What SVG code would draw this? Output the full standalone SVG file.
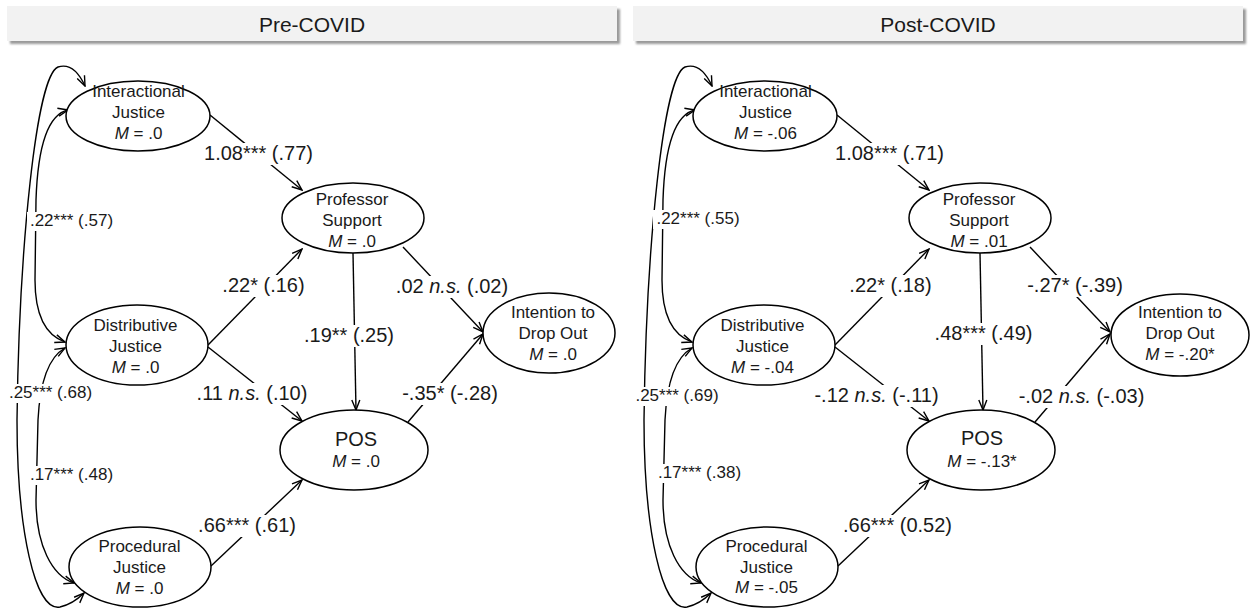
<svg xmlns="http://www.w3.org/2000/svg" width="1251" height="608" viewBox="0 0 1251 608">
<defs>
<style>
text{font-family:"Liberation Sans",Arial,sans-serif;fill:#1a1a1a}
.nt{font-size:17px;text-anchor:middle}
.big{font-size:20px}
.pl{font-size:20px;text-anchor:middle}
.cl{font-size:17px;text-anchor:middle}
.title{font-size:21px;text-anchor:middle}
.i{font-style:italic}
ellipse{fill:#fff;stroke:#000;stroke-width:1.5}
.edge{fill:none;stroke:#000;stroke-width:1.4;marker-end:url(#arr)}
.cov{fill:none;stroke:#000;stroke-width:1.4;marker-start:url(#arr);marker-end:url(#arr)}
.bg{fill:#fff}
.bar{fill:#f2f2f2}
.shadow{fill:#9a9a9a;filter:url(#blur)}
</style>
<marker id="arr" viewBox="0 0 12 10" refX="11" refY="5" markerWidth="12" markerHeight="10" markerUnits="userSpaceOnUse" orient="auto-start-reverse">
<path d="M1,1 L11,5 L1,9" fill="none" stroke="#000" stroke-width="1.4"/>
</marker>
<filter id="blur" x="-5%" y="-20%" width="110%" height="140%"><feGaussianBlur stdDeviation="1"/></filter>
</defs>
<rect width="1251" height="608" fill="#fff"/>

<g id="title-pre">
<rect class="shadow" x="10" y="9" width="610" height="35"/>
<rect class="bar" x="7" y="6" width="610" height="35"/>
<text class="title" x="312" y="32">Pre-COVID</text>
</g>
<g id="title-post">
<rect class="shadow" x="636" y="9" width="610" height="35"/>
<rect class="bar" x="633" y="6" width="610" height="35"/>
<text class="title" x="938" y="32">Post-COVID</text>
</g>

<g id="connectors">
<g id="connectors-pre">
<path class="edge" d="M210,115 L302,190"/>
<path class="edge" d="M208,345 L302,249"/>
<path class="edge" d="M208,347 L302,421"/>
<path class="edge" d="M353,253 L356,410"/>
<path class="edge" d="M403,247 L483,332"/>
<path class="edge" d="M408,422 L483,334"/>
<path class="edge" d="M211,566 L302,480"/>
<path class="cov" d="M85,86 Q74,62 58,67 C36,76 19,250 17,420 C17,530 35,612 60,607 Q73,604 84,593"/>
<path class="cov" d="M68,110 C50,114 38,140 36,200 L35,280 C35,318 48,336 65,342"/>
<path class="cov" d="M65,348 C49,357 40,380 38,420 L36,500 C36,545 52,576 74,583"/>
</g>
<g id="connectors-post" transform="translate(627,0)">
<path class="edge" d="M210,115 L302,190"/>
<path class="edge" d="M208,345 L302,249"/>
<path class="edge" d="M208,347 L302,421"/>
<path class="edge" d="M353,253 L356,410"/>
<path class="edge" d="M403,247 L483,332"/>
<path class="edge" d="M408,422 L483,334"/>
<path class="edge" d="M211,566 L302,480"/>
<path class="cov" d="M85,86 Q74,62 58,67 C36,76 19,250 17,420 C17,530 35,612 60,607 Q73,604 84,593"/>
<path class="cov" d="M68,110 C50,114 38,140 36,200 L35,280 C35,318 48,336 65,342"/>
<path class="cov" d="M65,348 C49,357 40,380 38,420 L36,500 C36,545 52,576 74,583"/>
</g>
</g>

<g id="labels-pre">
<rect class="bg" x="201" y="143" width="115" height="22"/><text class="pl" x="258.5" y="160">1.08*** (.77)</text>
<rect class="bg" x="220" y="275" width="87" height="22"/><text class="pl" x="263.5" y="292">.22* (.16)</text>
<rect class="bg" x="302" y="325" width="94" height="22"/><text class="pl" x="349" y="342">.19** (.25)</text>
<rect class="bg" x="194" y="383" width="116" height="22"/><text class="pl" x="252" y="400">.11 <tspan class="i">n.s.</tspan> (.10)</text>
<rect class="bg" x="394" y="276" width="116" height="22"/><text class="pl" x="452" y="293">.02 <tspan class="i">n.s.</tspan> (.02)</text>
<rect class="bg" x="399" y="383" width="102" height="22"/><text class="pl" x="450" y="400">-.35* (-.28)</text>
<rect class="bg" x="196" y="515" width="102" height="22"/><text class="pl" x="247" y="532">.66*** (.61)</text>
<rect class="bg" x="27" y="212" width="89" height="19"/><text class="cl" x="71.5" y="226">.22*** (.57)</text>
<rect class="bg" x="6" y="384" width="89" height="19"/><text class="cl" x="50.5" y="398">.25*** (.68)</text>
<rect class="bg" x="27" y="466" width="89" height="19"/><text class="cl" x="71.5" y="480">.17*** (.48)</text>
</g>
<g id="labels-post">
<rect class="bg" x="833" y="143" width="113" height="22"/><text class="pl" x="889.5" y="160">1.08*** (.71)</text>
<rect class="bg" x="847" y="275" width="87" height="22"/><text class="pl" x="890.5" y="292">.22* (.18)</text>
<rect class="bg" x="932" y="323" width="103" height="22"/><text class="pl" x="983.5" y="340">.48*** (.49)</text>
<rect class="bg" x="812" y="385" width="129" height="22"/><text class="pl" x="876.5" y="402">-.12 <tspan class="i">n.s.</tspan> (-.11)</text>
<rect class="bg" x="1025" y="275" width="100" height="22"/><text class="pl" x="1075" y="292">-.27* (-.39)</text>
<rect class="bg" x="1017" y="386" width="129" height="22"/><text class="pl" x="1081.5" y="403">-.02 <tspan class="i">n.s.</tspan> (-.03)</text>
<rect class="bg" x="840" y="515" width="115" height="22"/><text class="pl" x="897.5" y="532">.66*** (0.52)</text>
<rect class="bg" x="653" y="210" width="89" height="19"/><text class="cl" x="698" y="224">.22*** (.55)</text>
<rect class="bg" x="633" y="387" width="88" height="19"/><text class="cl" x="677" y="401">.25*** (.69)</text>
<rect class="bg" x="655" y="464" width="89" height="19"/><text class="cl" x="699.5" y="478">.17*** (.38)</text>
</g>

<g id="pre-interactional">
<ellipse cx="138" cy="116" rx="72" ry="35"/>
<text class="nt" x="138.5" y="97">Interactional</text>
<text class="nt" x="138.5" y="118">Justice</text>
<text class="nt" x="138.5" y="139"><tspan class="i">M</tspan> = .0</text>
</g>
<g id="pre-professor">
<ellipse cx="353" cy="218" rx="71" ry="35"/>
<text class="nt" x="352" y="205">Professor</text>
<text class="nt" x="352" y="226">Support</text>
<text class="nt" x="352" y="247"><tspan class="i">M</tspan> = .0</text>
</g>
<g id="pre-distributive">
<ellipse cx="137" cy="345" rx="71" ry="40"/>
<text class="nt" x="135.5" y="331">Distributive</text>
<text class="nt" x="135.5" y="352">Justice</text>
<text class="nt" x="135.5" y="373"><tspan class="i">M</tspan> = .0</text>
</g>
<g id="pre-intention">
<ellipse cx="549" cy="333" rx="66" ry="40"/>
<text class="nt" x="553" y="318">Intention to</text>
<text class="nt" x="553" y="339">Drop Out</text>
<text class="nt" x="553" y="360"><tspan class="i">M</tspan> = .0</text>
</g>
<g id="pre-pos">
<ellipse cx="354" cy="450" rx="74" ry="40"/>
<text class="nt big" x="356" y="446">POS</text>
<text class="nt" x="356" y="467"><tspan class="i">M</tspan> = .0</text>
</g>
<g id="pre-procedural">
<ellipse cx="140" cy="567" rx="71" ry="40"/>
<text class="nt" x="139.5" y="552">Procedural</text>
<text class="nt" x="139.5" y="573">Justice</text>
<text class="nt" x="139.5" y="594"><tspan class="i">M</tspan> = .0</text>
</g>

<g id="post-interactional">
<ellipse cx="765" cy="116" rx="72" ry="35"/>
<text class="nt" x="765.5" y="97">Interactional</text>
<text class="nt" x="765.5" y="118">Justice</text>
<text class="nt" x="765.5" y="139"><tspan class="i">M</tspan> = -.06</text>
</g>
<g id="post-professor">
<ellipse cx="980" cy="218" rx="71" ry="35"/>
<text class="nt" x="979" y="205">Professor</text>
<text class="nt" x="979" y="226">Support</text>
<text class="nt" x="979" y="247"><tspan class="i">M</tspan> = .01</text>
</g>
<g id="post-distributive">
<ellipse cx="764" cy="345" rx="71" ry="40"/>
<text class="nt" x="762.5" y="331">Distributive</text>
<text class="nt" x="762.5" y="352">Justice</text>
<text class="nt" x="762.5" y="373"><tspan class="i">M</tspan> = -.04</text>
</g>
<g id="post-intention">
<ellipse cx="1180" cy="335" rx="69" ry="41"/>
<text class="nt" x="1180" y="318">Intention to</text>
<text class="nt" x="1180" y="339">Drop Out</text>
<text class="nt" x="1180" y="360"><tspan class="i">M</tspan> = -.20*</text>
</g>
<g id="post-pos">
<ellipse cx="981" cy="450" rx="74" ry="40"/>
<text class="nt big" x="982" y="445">POS</text>
<text class="nt" x="982" y="467"><tspan class="i">M</tspan> = -.13*</text>
</g>
<g id="post-procedural">
<ellipse cx="767" cy="567" rx="71" ry="40"/>
<text class="nt" x="766.5" y="552">Procedural</text>
<text class="nt" x="766.5" y="573">Justice</text>
<text class="nt" x="766.5" y="593"><tspan class="i">M</tspan> = -.05</text>
</g>
</svg>
